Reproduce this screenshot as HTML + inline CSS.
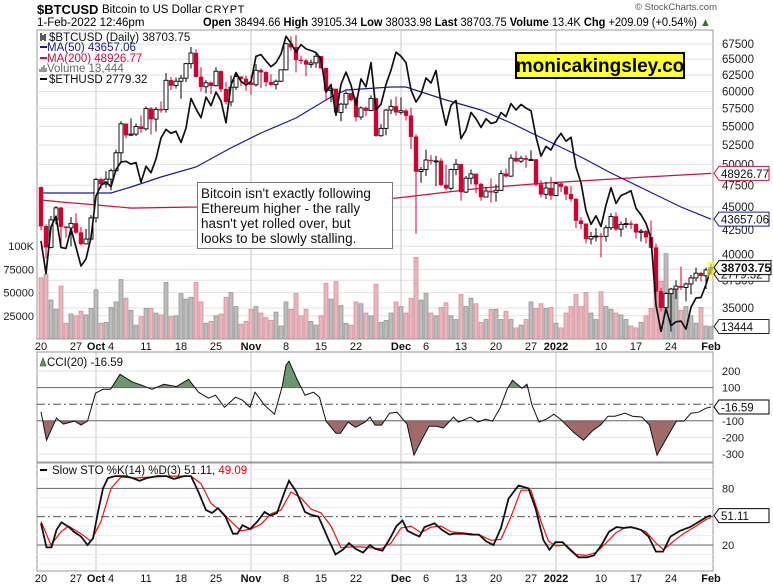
<!DOCTYPE html>
<html><head><meta charset="utf-8"><style>
html,body{margin:0;padding:0;background:#fff;width:773px;height:587px;overflow:hidden}
svg{display:block;font-family:"Liberation Sans",Arial,sans-serif}
</style></head><body>
<svg id="chart" width="773" height="587" viewBox="0 0 773 587" xmlns="http://www.w3.org/2000/svg">
<defs>
<clipPath id="mainClip"><rect x="37" y="30" width="676" height="309"/></clipPath>
<clipPath id="cciUp"><rect x="37" y="352" width="676" height="35.6"/></clipPath>
<clipPath id="cciDn"><rect x="37" y="420.8" width="676" height="42"/></clipPath>
</defs>
<text x="37" y="14" font-size="13" font-weight="bold">$BTCUSD</text>
<text x="102" y="13" font-size="11.5">Bitcoin to US Dollar <tspan font-size="11" letter-spacing="0.6">CRYPT</tspan></text>
<text x="37" y="26" font-size="11.5">1-Feb-2022 12:46pm</text>
<text x="203" y="26" font-size="11.5" textLength="508" lengthAdjust="spacingAndGlyphs"><tspan font-weight="bold">Open</tspan> 38494.66 <tspan font-weight="bold">High</tspan> 39105.34 <tspan font-weight="bold">Low</tspan> 38033.98 <tspan font-weight="bold">Last</tspan> 38703.75 <tspan font-weight="bold">Volume</tspan> 13.4K <tspan font-weight="bold">Chg</tspan> +209.09 (+0.54%) <tspan fill="#2a7a2a">▲</tspan></text>
<text x="717" y="10" font-size="9.5" fill="#555" text-anchor="end">© StockCharts.com</text>
<g id="main"></g>
<g id="cci"></g>
<g id="sto"></g>
</svg>
<script>
const closes=[42900,40700,43580,44900,42850,42720,43200,42230,41050,41550,43800,48200,47650,48230,49250,51500,55350,53800,53950,54970,54660,57480,56000,57370,57350,61670,60880,61530,62000,64280,66000,62200,60690,61300,60850,63080,60330,58450,60620,62230,61890,61320,61000,63230,62930,61400,61010,61530,63300,67550,66970,64880,64770,64150,64400,65470,63560,60140,60370,56940,58120,59700,58730,56290,57570,57200,58960,53730,54720,57270,57800,56950,57180,56480,53600,49150,49400,50580,50470,50470,47540,47140,49390,50050,46700,48340,48860,47630,46130,46830,46680,46910,48890,48590,50820,50430,50800,50640,50640,47590,46440,47180,46300,47690,47340,46460,45900,43500,43170,41560,41820,41870,41830,42740,43950,42590,43100,43180,43110,42250,42370,41740,40680,36480,35030,36280,36690,36960,36830,37160,37720,38170,37920,38480,38700];
const highs=[47350,43100,44000,45100,45000,42900,43900,44300,42800,42600,44100,48400,48400,49200,49500,51900,55700,55300,56100,55400,56500,57800,57700,57700,58500,62800,62200,62100,62500,64400,67000,66600,63700,61700,61500,63700,63200,61400,62400,62900,62300,62400,62400,64200,63500,63100,62600,61800,63300,67700,68800,69000,65500,65000,64900,66000,65500,63600,60800,60100,58300,60000,59800,59200,57800,57800,59400,59000,55300,57400,58800,59200,59100,57400,57600,53900,49700,51900,51200,51100,50800,50000,49500,50700,50100,48600,49400,48900,47800,47300,48300,47600,49300,49500,51300,51700,51100,51200,51800,50700,48100,47900,48500,47900,47900,47500,47400,46000,43900,43100,42300,42700,42200,43000,44300,44400,43400,43800,43500,43200,42600,42500,43500,41100,36800,36400,36800,37500,38800,37300,38000,38700,38300,38700,39100];
const lows=[42500,39600,40600,43100,40900,41700,40800,42100,40900,41000,41400,43300,47100,47200,46900,49100,50400,53400,53700,53700,54100,54400,53900,54300,56900,56900,60200,60400,58900,61400,63500,62100,60000,59700,59600,60700,59900,58100,57800,60200,60800,60100,59500,60700,60500,60700,60800,60300,61400,63200,66400,62900,64200,62300,63600,63600,63500,58700,58400,56500,55700,57500,58500,55700,55900,56400,57100,53600,53600,53800,56700,56500,56600,55800,52000,42100,47800,48600,50000,47400,47400,46900,46900,48700,45700,46600,47600,46600,45700,46100,45500,45600,46800,48400,48500,50300,50200,49600,50600,47400,46100,45900,45800,46200,46700,45800,45600,42700,42600,41100,41000,41300,39700,41300,42500,42400,41800,42700,42600,41600,41300,41100,40600,35800,34700,34600,33000,35800,36600,35600,36200,37400,37400,36700,38030];
const volumesK=[66,70,42,32,57,17,27,25,30,26,33,53,17,18,34,40,64,44,31,15,24,33,33,28,26,61,24,25,49,43,45,61,40,17,19,25,27,45,50,35,16,19,32,35,28,23,20,29,14,40,32,49,25,32,19,15,25,60,43,62,36,17,15,40,38,28,25,59,18,20,28,40,35,28,44,88,42,49,28,25,34,39,25,21,48,35,44,38,18,21,32,32,21,30,21,12,15,21,40,33,38,33,34,17,12,28,35,48,35,50,28,21,51,35,32,28,26,21,14,12,18,25,33,68,62,92,50,56,31,35,25,17,34,14,13.4];
const ethCloses=[2977,2757,3076,3154,2931,2925,3063,2934,2807,2853,3001,3307,3391,3418,3380,3518,3581,3587,3563,3576,3415,3545,3492,3607,3788,3865,3830,3848,3748,3877,4155,4055,3972,4169,4086,4218,4132,3925,4288,4415,4326,4288,4324,4587,4605,4537,4476,4518,4611,4807,4728,4632,4714,4667,4649,4627,4557,4216,4294,3996,4296,4420,4289,4090,4350,4270,4520,4045,4100,4295,4440,4631,4587,4520,4239,4120,4197,4359,4309,4437,4112,3903,4090,4136,3783,3860,4021,3963,3883,3962,3920,3932,4020,3983,4106,4045,4097,4063,4037,3798,3631,3714,3683,3769,3829,3760,3794,3538,3410,3195,3095,3157,3079,3238,3372,3250,3311,3327,3347,3213,3165,3101,2994,2561,2408,2539,2441,2463,2467,2422,2548,2604,2607,2688,2793];
const ma50Days=[0,14,18,24,31,38,44,51,58,61,70,73,81,88,94,101,108,114,121,128,134];
const ma50Vals=[46590,46590,47300,48490,49710,52120,54090,56150,59160,60200,60650,60650,58720,57280,55460,53160,50960,48970,46940,45000,43657];
const ma200Days=[0,4,11,18,31,71,88,101,121,134];
const ma200Vals=[45790,45560,45230,44880,45000,46010,47170,47770,48490,48927];
const cciDays=[0,1.1,3.1,4.5,6.7,8,9.3,10.9,12.4,13.9,15.8,18.3,20.2,22.2,24.6,27.1,29.5,31.5,33.5,34.9,36.7,38.9,40.3,41.8,42.8,44.7,46.7,48.2,49,49.6,51.1,52.8,54.5,55.7,57,59,59.9,61.4,62.9,64.8,65.8,66.8,68.1,69.7,71.2,73.2,74.6,76.1,77.6,79.1,80.5,82.5,83.5,85.9,87.4,88.9,90.3,91.8,93.3,94.3,96.2,97.2,98.2,99.6,101.1,102.6,104.1,106.5,108.5,110.4,111.9,113.4,114.8,116.8,118.3,120.2,121.7,123.2,125.1,127.1,128.6,130,131.5,133,134];
const cciVals=[-46,-217,-84,-120,-102,-126,-102,66,90,90,180,133,114,90,120,106,150,72,36,54,-18,42,24,-18,72,-6,-60,102,235,259,157,54,72,42,-102,-175,-175,-108,-139,-108,-78,-126,-126,-54,-48,-120,-307,-217,-133,-133,-144,-78,-108,-78,-108,-90,-102,-24,96,144,96,120,-6,-108,-90,-60,-96,-169,-217,-157,-126,-72,-72,-54,-72,-78,-126,-307,-205,-102,-102,-54,-48,-24,-16.59];
const kDays=[0,1.1,2.1,3.1,4.1,5.6,6.6,8,9.3,10.4,11.4,12.4,13.4,14.8,16.8,18.3,19.7,21.2,23.2,25.1,26.6,28.6,30,31.5,33,34.2,35.4,36.9,38.4,39.3,40.3,41.8,43.3,44.7,45.9,47.2,48.7,49.6,51.1,52.8,54,55.5,57.4,58.9,60.4,61.6,62.9,64.4,65.8,66.8,68.3,69.8,71.1,72.3,73.3,74.8,75.7,76.7,78.7,80.2,81.7,82.6,84.6,86.1,87.6,89,90.5,92,93.5,95.5,97.5,98.9,100.5,101.7,102.9,104.3,105.8,107.5,109.2,110.6,112.1,113.6,115.1,116.6,118,120,121.5,123,124.4,125.9,127.8,129.8,131.7,133.2,134];
const kVals=[43,17.5,17.5,36,44,39,34,29,20,27,55,80,91,93,93,91,88,91,93,93,90,93,93,76,57,54,59,50,32,32,41,37,45,55,51,54,76,88,76,55,52,50,27,10,15,22,16,12,20,16,14,27,40,46,35,31,29,39,43,36,31,32,32,31,31,24,20,38,69,83,80,59,25,15,23,23,15,7,7,9,20,34,39,38,39,36,29,13,13,29,35,39,45,50,51.11];
const dDays=[0,2,4,5.5,8,10,12,14,16,19,22,26,30,32,34,36,38,40,42,44,46,48,50,52,54,56,58,60,62,64,66,68,70,72,74,76,78,80,82,84,86,88,90,92,94,96,98,100,101.5,103,105,107,109,111,113,115,117,119,121,123,124.5,126.5,128.5,131,133,134];
const dVals=[45,20,34,40,32,24,45,80,92,91,92,93,93,85,64,56,45,35,37,42,53,57,76,70,58,54,40,17,18,18,17,16,22,38,40,33,39,40,34,33,32,30,25,26,50,78,78,45,24,19,20,10,9,12,22,33,39,38,34,22,15,24,32,40,47,49.09];
const priceTicks=[67500,65000,62500,60000,57500,55000,52500,50000,47500,45000,42500,40000,37500,35000];
const volTicksK=[25,50,75,100];
const volTickLabels=["25000","50000","75000","100K"];
const dateDays=[0,7,11,14,21,28,35,42,49,56,63,72,77,84,91,98,103,112,119,126,134];
const dateLabels=["20","27","Oct","4","11","18","25","Nov","8","15","22","Dec","6","13","20","27","2022","10","17","24","Feb"];
const dateBold=[0,0,1,0,0,0,0,1,0,0,0,1,0,0,0,0,1,0,0,0,1];
const monthDays=[11,42,72,103];
const cciTicks=[200,100,-100,-200,-300];
const stoTicks=[80,20];

const NS="http://www.w3.org/2000/svg";
const xD=d=>41+5*d;
const yP=p=>44+Math.log(67500/p)*402;
const yV=v=>339-v*0.928;
const yE=e=>36+Math.log(4810/e)*427;
const yC=c=>404.2-c*0.166;
const yS=s=>545-(s-20)*0.944;
function mk(tag,attrs,parent,txt){const e=document.createElementNS(NS,tag);for(const k in attrs)e.setAttribute(k,attrs[k]);if(txt!==undefined)e.textContent=txt;parent.appendChild(e);return e;}
const main=document.getElementById('main');
const cci=document.getElementById('cci');
const sto=document.getElementById('sto');

let r=mk('rect',{x:37,y:30,width:676,height:309,fill:'#fff',stroke:'#999'},main);


priceTicks.forEach(p=>{
  let l=mk('line',{x1:37,x2:713,y1:yP(p),y2:yP(p),stroke:'#e2e2e2'},main);
  
  
  let t=mk('text',{x:722,y:yP(p)+4,'font-size':11.5,fill:'#222'},main,String(p));
  
  
});
volTicksK.forEach((v,i)=>{
  let l=mk('line',{x1:37,x2:713,y1:yV(v),y2:yV(v),stroke:'#e2e2e2'},main);
  
  
  let t=mk('text',{x:34,y:yV(v)+4,'font-size':11,fill:'#222','text-anchor':'end'},main,volTickLabels[i]);
  
  
});
[main,cci,sto].forEach((g,gi)=>{
  const top=[30,352,463][gi],bot=[339,462,571][gi];
  monthDays.forEach(d=>{
    let l=mk('line',{x1:xD(d),x2:xD(d),y1:top,y2:bot,stroke:'#c8c8c8'},g);
    
    
  });
});
const plot=mk('g',{'clip-path':'url(#mainClip)'},main);


volumesK.forEach((v,i)=>{
  const prev=i?closes[i-1]:47250;
  const dn=closes[i]<prev;
  let b=mk('rect',{x:xD(i)-2,y:yV(v),width:4,height:339-yV(v),fill:dn?'#e9b7bf':'#bdbdbd',stroke:dn?'#d08894':'#8f8f8f','stroke-width':0.7},plot);
  
  
});
function poly(days,vals,xf,yf,attrs,parent,name){
  const pts=days.map((d,i)=>xf(d).toFixed(1)+','+yf(vals[i]).toFixed(1)).join(' ');
  const p=mk('polyline',Object.assign({points:pts,fill:'none'},attrs),parent);
  
  
  return p;
}
poly(ma200Days,ma200Vals,xD,yP,{stroke:'#cc1140','stroke-width':1.2},plot,'ma200-line');
poly(ma50Days,ma50Vals,xD,yP,{stroke:'#1a1a8c','stroke-width':1.2},plot,'ma50-line');
closes.forEach((c,i)=>{
  const o=i?closes[i-1]:47250;
  const up=c>=o, x=xD(i);
  const col=up?'#000':'#cc0033';
  let w=mk('line',{x1:x,x2:x,y1:yP(highs[i]),y2:yP(lows[i]),stroke:col,'stroke-width':1},plot);
  
  
  const t=yP(Math.max(o,c)),b=yP(Math.min(o,c));
  let bd=mk('rect',{x:x-2,y:t,width:4,height:Math.max(1,b-t),fill:up?'#fff':'#cc0033',stroke:col,'stroke-width':up?0.9:0.4},plot);
  
  
});
poly(ethCloses.map((_,i)=>i),ethCloses,xD,yE,{stroke:'#111','stroke-width':1.7,'stroke-linejoin':'round'},plot,'eth-line');
let hl=mk('rect',{x:xD(134)-4,y:yP(39105)-2,width:8,height:yP(38033)-yP(39105)+4,fill:'#ffff33','fill-opacity':0.6},main);



function valBox(g,y,txt,col,bold,name){
  const grp=mk('g',{},g);
  
  
  const w=bold?52:50;
  mk('path',{d:`M714 ${y} L719 ${y-7} L${719+w} ${y-7} L${719+w} ${y+7} L719 ${y+7} Z`,fill:'#fff',stroke:col,'stroke-width':1},grp);
  mk('text',{x:721,y:y+4.5,'font-size':bold?12:11.5,'font-weight':bold?'bold':'normal',fill:'#111'},grp,txt);
}
valBox(main,yP(48926.77),'48926.77','#cc1140',false,'ma200-value-label');
valBox(main,yP(43657.06),'43657.06','#1a1a8c',false,'ma50-value-label');
valBox(main,yE(2779.32)+4,'2779.32','#222',false,'eth-value-label');
valBox(main,yP(38703.75),'38703.75','#000',true,'last-price-label');
valBox(main,yV(13.444),'13444','#222',false,'volume-value-label');

const lg=mk('g',{'font-size':11.5},main);


mk('path',{d:'M41 33v8M43 35v5M45 34v7',stroke:'#000','stroke-width':1.3},lg);
mk('text',{x:49,y:41,fill:'#111'},lg,'$BTCUSD (Daily) 38703.75');
mk('line',{x1:40,x2:47,y1:47,y2:47,stroke:'#1a1a8c','stroke-width':2},lg);
mk('text',{x:47,y:51,fill:'#1a1a8c'},lg,'MA(50) 43657.06');
mk('line',{x1:40,x2:47,y1:58,y2:58,stroke:'#cc1140','stroke-width':2},lg);
mk('text',{x:47,y:62,fill:'#cc1140'},lg,'MA(200) 48926.77');
mk('path',{d:'M40 72v-3M42 72v-5M44 72v-7M46 72v-4',stroke:'#777','stroke-width':1.5},lg);
mk('text',{x:47,y:72,fill:'#666'},lg,'Volume 13,444');
mk('line',{x1:40,x2:47,y1:79,y2:79,stroke:'#000','stroke-width':2},lg);
mk('text',{x:49,y:83,fill:'#111'},lg,'$ETHUSD 2779.32');

const ann=mk('g',{},main);


mk('rect',{x:197.5,y:182.5,width:195,height:66,fill:'#fff',stroke:'#777'},ann);
['Bitcoin isn\'t exactly following','Ethereum higher - the rally','hasn\'t yet rolled over, but','looks to be slowly stalling.'].forEach((s,i)=>mk('text',{x:201,y:198+i*15,'font-size':13.5,fill:'#111'},ann,s));
const wm=mk('g',{},main);


mk('rect',{x:516,y:53,width:168,height:25,fill:'#ffff33',stroke:'#000','stroke-width':2},wm);
mk('text',{x:600,y:72,'font-size':19,'font-weight':'bold','text-anchor':'middle',fill:'#000'},wm,'monicakingsley.co');

function dateAxis(y,name){
  const g=mk('g',{'font-size':11},document.getElementById('chart'));
  
  
  dateDays.forEach((d,i)=>{
    let t=mk('text',{x:xD(d),y:y,'text-anchor':'middle','font-weight':dateBold[i]?'bold':'normal',fill:'#111'},g,dateLabels[i]);
    
    
  });
}
dateAxis(350,'price-date-axis');
dateAxis(582,'sto-date-axis');

mk('rect',{x:37,y:352,width:676,height:110,fill:'none',stroke:'#999'},cci);
[200,-200,-300].forEach(v=>mk('line',{x1:37,x2:713,y1:yC(v),y2:yC(v),stroke:'#e2e2e2'},cci));
cciTicks.forEach(v=>{
  let t=mk('text',{x:722,y:yC(v)+4,'font-size':11,fill:'#222'},cci,String(v));
  
  
});
const cpts=cciDays.map((d,i)=>xD(d).toFixed(1)+','+yC(cciVals[i]).toFixed(1));
let fu=mk('polygon',{points:xD(cciDays[0])+','+yC(100)+' '+cpts.join(' ')+' '+xD(134)+','+yC(100),fill:'#6e9470',stroke:'none','clip-path':'url(#cciUp)'},cci);


let fd=mk('polygon',{points:xD(cciDays[0])+','+yC(-100)+' '+cpts.join(' ')+' '+xD(134)+','+yC(-100),fill:'#a06a6a',stroke:'none','clip-path':'url(#cciDn)'},cci);


[100,-100].forEach(v=>mk('line',{x1:37,x2:713,y1:yC(v),y2:yC(v),stroke:'#666','stroke-width':1},cci));
mk('line',{x1:37,x2:713,y1:yC(0),y2:yC(0),stroke:'#555','stroke-dasharray':'8,3,2,3'},cci);
poly(cciDays,cciVals,xD,yC,{stroke:'#111','stroke-width':1},cci,'cci-line');
valBox(cci,yC(-16.59),'-16.59','#000',false,'cci-value-label');
mk('path',{d:'M40 366l3-8l3 8z',fill:'#6e9470',stroke:'#333','stroke-width':0.6},cci);
mk('text',{x:47,y:366,'font-size':11.5,fill:'#111'},cci,'CCI(20) -16.59');

mk('rect',{x:37,y:463,width:676,height:108,fill:'none',stroke:'#999'},sto);
[0,10,30,40,60,70,90,100].forEach(v=>mk('line',{x1:37,x2:713,y1:yS(v),y2:yS(v),stroke:'#ececec'},sto));
stoTicks.forEach(v=>{
  mk('line',{x1:37,x2:713,y1:yS(v),y2:yS(v),stroke:'#666'},sto);
  let t=mk('text',{x:722,y:yS(v)+4,'font-size':11,fill:'#222'},sto,String(v));
  
  
});
mk('line',{x1:37,x2:713,y1:yS(50),y2:yS(50),stroke:'#555','stroke-dasharray':'8,3,2,3'},sto);
poly(dDays,dVals,xD,yS,{stroke:'#ee1111','stroke-width':1.2},sto,'sto-d-line');
poly(kDays,kVals,xD,yS,{stroke:'#111','stroke-width':1.8},sto,'sto-k-line');
valBox(sto,yS(51.11),'51.11','#000',false,'sto-value-label');
mk('line',{x1:40,x2:47,y1:470,y2:470,stroke:'#000','stroke-width':2},sto);
let st=mk('text',{x:52,y:474,'font-size':11.5,fill:'#111'},sto);
st.innerHTML='Slow STO %K(14) %D(3) 51.11, <tspan fill="#e00">49.09</tspan>';
</script>
</body></html>
